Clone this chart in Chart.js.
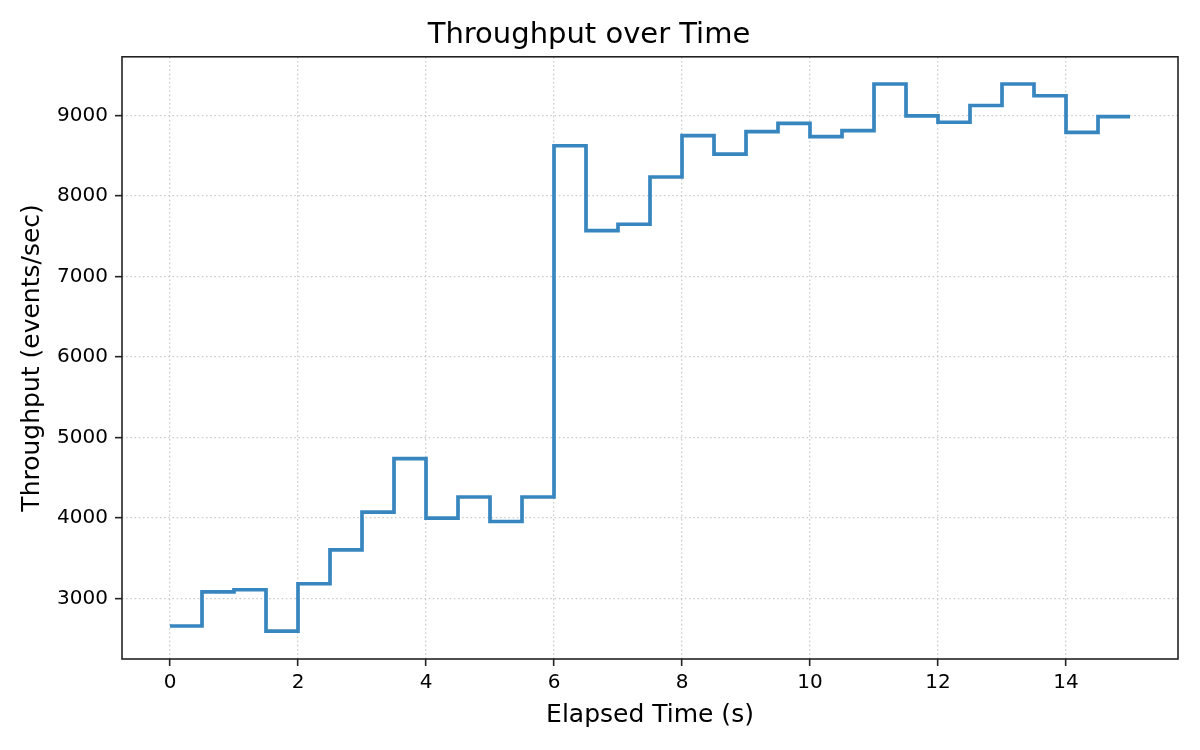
<!DOCTYPE html>
<html>
<head>
<meta charset="utf-8">
<script src="https://cdn.jsdelivr.net/npm/chart.js@4/dist/chart.umd.min.js"></script>
<style>
  html, body { margin: 0; padding: 0; background: #fff; }
  #wrap { width: 1200px; height: 750px; }
</style>
</head>
<body>
<div id="wrap"><canvas id="stepChart" width="1200" height="750"></canvas></div>
<script>
// elapsed time (s), sampled every 0.5 s
const elapsed = [0, 0.5, 1, 1.5, 2, 2.5, 3, 3.5, 4, 4.5, 5, 5.5, 6, 6.5, 7, 7.5,
  8, 8.5, 9, 9.5, 10, 10.5, 11, 11.5, 12, 12.5, 13, 13.5, 14, 14.5, 15];
// throughput (events/sec), value held until next sample
const throughput = [2660, 3085, 3110, 2595, 3185, 3605, 4075, 4740, 4000, 4262, 3958, 4262,
  8625, 7572, 7650, 8237, 8750, 8521, 8800, 8904, 8738, 8813, 9392, 8996,
  8917, 9125, 9392, 9246, 8792, 8988, 8988];
const xTicks = [0, 2, 4, 6, 8, 10, 12, 14];
const yTicks = [3000, 4000, 5000, 6000, 7000, 8000, 9000];

const frame = {
  id: 'frame',
  afterDraw(chart) {
    const { ctx, chartArea: a } = chart;
    ctx.save();
    ctx.strokeStyle = '#222';
    ctx.lineWidth = 1.6;
    ctx.strokeRect(a.left, a.top, a.right - a.left, a.bottom - a.top);
    ctx.restore();
  }
};

const tickFont = { family: 'DejaVu Sans', size: 20 };
const gridOpts = {
  color: '#cccccc',
  lineWidth: 1.3,
  tickColor: '#222',
  tickBorderDash: [],
  tickWidth: 1.6,
  tickLength: 7
};
const borderOpts = { display: false, dash: [1.6, 2.6] };

new Chart(document.getElementById('stepChart'), {
  type: 'line',
  data: {
    datasets: [{
      data: elapsed.map((x, i) => ({ x: x, y: throughput[i] })),
      borderColor: '#3786c0',
      borderWidth: 3.7,
      stepped: 'before',
      pointRadius: 0,
      fill: false
    }]
  },
  plugins: [frame],
  options: {
    responsive: false,
    animation: false,
    layout: { padding: { left: 0, right: 22, top: 0, bottom: 0 } },
    plugins: {
      legend: { display: false },
      tooltip: { enabled: false },
      title: {
        display: true,
        text: 'Throughput over Time',
        color: '#000',
        font: { family: 'DejaVu Sans', size: 29, weight: 'normal' },
        padding: { top: 18, bottom: 4 }
      }
    },
    scales: {
      x: {
        type: 'linear',
        min: -0.75,
        max: 15.75,
        afterBuildTicks(s) { s.ticks = xTicks.map(v => ({ value: v })); },
        afterFit(s) { s.height = 91; },
        grid: gridOpts,
        border: borderOpts,
        ticks: { color: '#000', font: tickFont, padding: 5, maxRotation: 0, callback: v => String(v) },
        title: {
          display: true,
          text: 'Elapsed Time (s)',
          color: '#000',
          font: { family: 'DejaVu Sans', size: 25 },
          padding: { top: 0, bottom: 20 }
        }
      },
      y: {
        min: 2250,
        max: 9730,
        afterBuildTicks(s) { s.ticks = yTicks.map(v => ({ value: v })); },
        afterFit(s) { s.width = 122; },
        grid: gridOpts,
        border: borderOpts,
        ticks: { color: '#000', font: tickFont, padding: 7, callback: v => String(v) },
        title: {
          display: true,
          text: 'Throughput (events/sec)',
          color: '#000',
          font: { family: 'DejaVu Sans', size: 25 },
          padding: { top: 17, bottom: 0 }
        }
      }
    }
  }
});
</script>
</body>
</html>
